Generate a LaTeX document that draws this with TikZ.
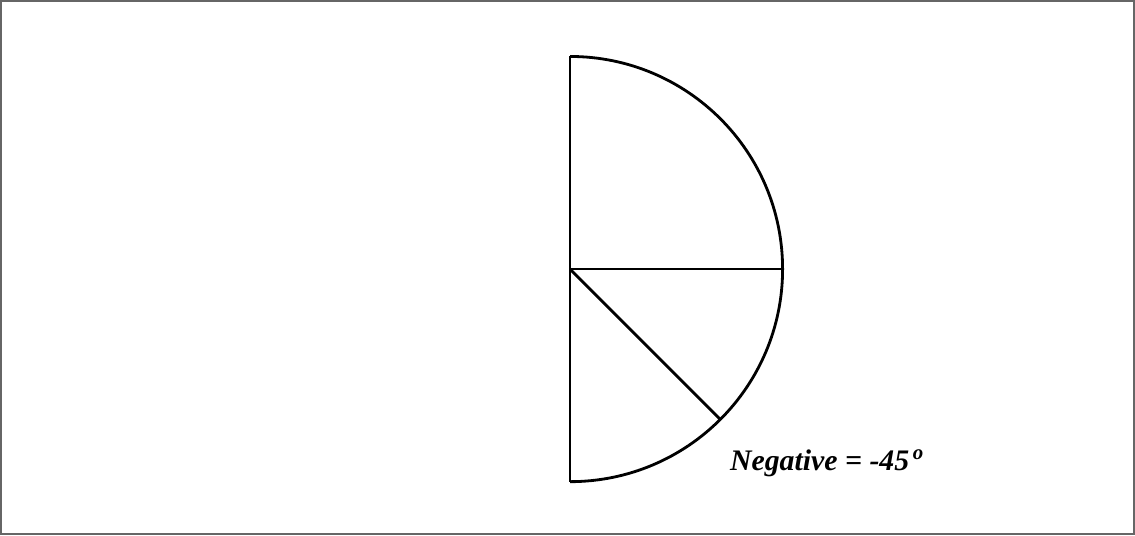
\documentclass[tikz,border=0pt]{standalone}
\usepackage{fontspec}
\setmainfont{Liberation Serif}
\usetikzlibrary{calc}
\tikzset{
  frameline/.style={draw=gray!80!black, line width=1.2pt},
  edgeline/.style={draw=black, line width=1.6pt},
  anglelabel/.style={anchor=base west, inner sep=0pt, font=\fontsize{17}{20}\selectfont\bfseries\itshape}
}

\begin{document}
\begin{tikzpicture}[x=0.02cm, y=-0.02cm]
  \draw[frameline] (0,0) rectangle (1135,534);
  \useasboundingbox (0,0) rectangle (1135,534);

  % semicircle and radii
  \coordinate (centre) at (570,268.5);
  \coordinate (top) at ($(centre)+(0,-213)$);
  \coordinate (bottom) at ($(centre)+(0,213)$);
  \coordinate (east) at ($(centre)+(213,0)$);
  \coordinate (neg) at ($(centre)+(150.6,150.6)$);

  \draw[edgeline] (top) -- (bottom);
  \draw[edgeline] (top) arc[start angle=-90, end angle=90, radius=213];
  \draw[edgeline] (centre) -- (east);
  \draw[edgeline] (centre) -- (neg);

  \node[anglelabel] (label) at (730,470) {Negative = -45\kern2pt\textsuperscript{o}};
\end{tikzpicture}
\end{document}
